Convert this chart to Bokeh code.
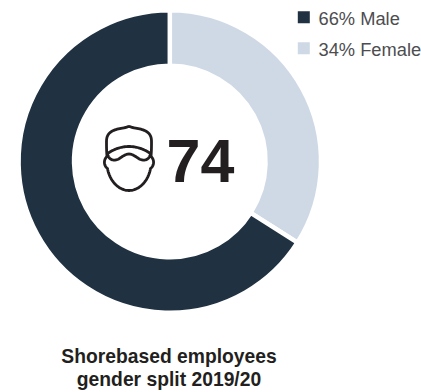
from math import pi

import numpy as np
from bokeh.core.properties import value
from bokeh.embed import file_html
from bokeh.models import Range1d
from bokeh.plotting import figure
from bokeh.resources import INLINE

# Gender split of shorebased employees, 2019/20
categories = ["Female", "Male"]
shares = [34, 66]
legend_labels = ["66% Male", "34% Female"]
legend_order = ["Male", "Female"]
headcount = "74"
caption = ["Shorebased employees", "gender split 2019/20"]

colors = {"Male": "#203142", "Female": "#cfd9e6"}
INK = "#231f20"
MUTED = "#4d4d4f"

W, H = 421, 392
GAP = 4.5
CX, CY, R_OUT, R_IN = 169.3, 161, 149 + GAP / 2, 98 - GAP / 2


def Y(py):
    """Convert a top-down page position to the upward y axis."""
    return H - py


p = figure(width=W, height=H, output_backend="svg", toolbar_location=None,
           x_range=Range1d(0, W), y_range=Range1d(0, H), min_border=0,
           outline_line_color=None, background_fill_color="white",
           border_fill_color="white")
p.axis.visible = False
p.grid.visible = False

# Ring, running clockwise from twelve o'clock
start = pi / 2
for name, share in zip(categories, shares):
    end = start - 2 * pi * share / sum(shares)
    p.annular_wedge(x=[CX], y=[Y(CY)], inner_radius=R_IN, outer_radius=R_OUT,
                    start_angle=[end], end_angle=[start],
                    fill_color=colors[name], line_color="white", line_width=GAP)
    start = end


def bezier_path(points):
    """Chain cubic segments given as P0, C1, C2, P1, C1, C2, P2, ..."""
    t = np.linspace(0, 1, 24)[:, None]
    pts = np.array(points, dtype=float)
    out = []
    for i in range(0, len(pts) - 1, 3):
        a, b, c, d = pts[i:i + 4]
        out.append((1 - t) ** 3 * a + 3 * (1 - t) ** 2 * t * b + 3 * (1 - t) * t ** 2 * c + t ** 3 * d)
    return np.vstack(out)


# Cap and face icon beside the headcount
icon_paths = [
    # crown of the cap, with its small button on top
    [(106.5, 156), (106, 150), (106, 146), (106, 141),
     (106, 131), (113, 129), (125, 127),
     (126, 127), (127, 126), (128.5, 126),
     (130, 126), (131, 127), (132, 127),
     (144, 129), (151, 131), (151, 141),
     (151, 146), (151, 150), (150.5, 156)],
    # upper edge of the brim
    [(107, 153), (113, 149), (120, 146), (128.5, 146),
     (137, 146), (144, 149), (150, 153)],
    # lower edge of the brim
    [(107, 153), (108, 160), (114, 161), (119, 158),
     (123, 155), (126, 153.5), (128.5, 153.5),
     (131, 153.5), (134, 155), (138, 158),
     (143, 161), (149, 160), (150, 153)],
    # left ear and jaw
    [(106.5, 156), (103, 159), (103, 165), (107, 168),
     (109, 180), (118, 190), (128.5, 190)],
    # right ear and jaw
    [(150.5, 156), (154, 159), (154, 165), (150, 168),
     (148, 180), (139, 190), (128.5, 190)],
]
for path in icon_paths:
    xy = bezier_path(path)
    p.line(xy[:, 0], H - xy[:, 1], line_color=INK, line_width=2.8,
           line_cap="round", line_join="round")

p.text(x=[200], y=[Y(160.5)], text=[headcount], text_font=value("Liberation Sans"),
       text_font_style="bold", text_font_size="61px", text_color=INK,
       text_align="center", text_baseline="middle")

# Legend
for name, py, label in zip(legend_order, (16.7, 47.8), legend_labels):
    p.rect(x=[303.3], y=[Y(py)], width=12, height=12,
           fill_color=colors[name], line_color=None)
    p.text(x=[318], y=[Y(py + 1)], text=[label], text_font=value("Liberation Sans"),
           text_font_size="18.3px", text_color=MUTED, text_align="left",
           text_baseline="middle")

# Caption under the ring
for py, line in zip((356, 379), caption):
    p.text(x=[168.5], y=[Y(py)], text=[line], text_font=value("Liberation Sans"),
           text_font_style="bold", text_font_size="19.3px", text_color=INK,
           text_align="center", text_baseline="middle")

open("out.html", "w").write(file_html(p, INLINE))
